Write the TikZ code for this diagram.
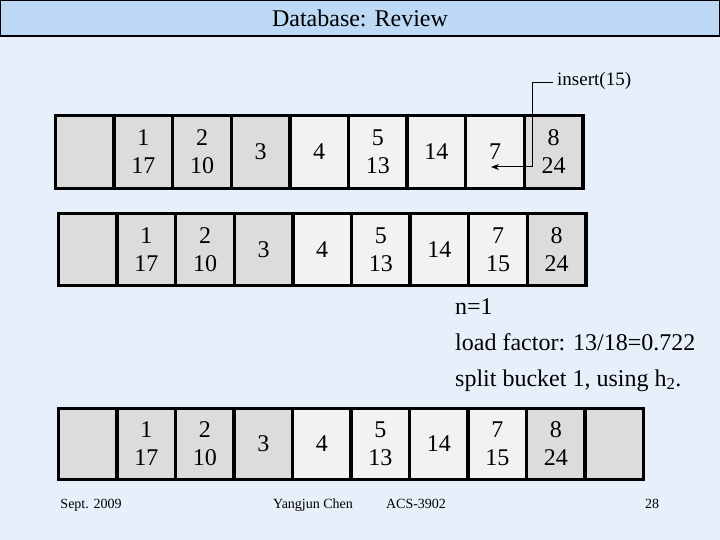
\documentclass[tikz,border=0pt]{standalone}
\usepackage{fontspec}
\setmainfont{Liberation Serif}
\usetikzlibrary{arrows.meta}
\definecolor{bg}{HTML}{E7F0FA}
\definecolor{titlebg}{HTML}{BDD9F5}
\definecolor{darkcell}{HTML}{DCDCDC}
\definecolor{lightcell}{HTML}{F2F2F2}
\tikzset{
  cellbox/.style={draw=black, line width=3.3pt, minimum width=58.6pt, inner sep=0pt, align=center, font=\fontsize{24}{28}\selectfont},
  dk/.style={cellbox, fill=darkcell},
  lt/.style={cellbox, fill=lightcell},
  foot/.style={font=\fontsize{14}{16}\selectfont, inner sep=0pt, anchor=base},
  info/.style={font=\fontsize{24}{28}\selectfont, anchor=base west, inner sep=0pt},
}
\begin{document}
\begin{tikzpicture}[x=1pt,y=-1pt]
\path[use as bounding box, fill=bg] (0,0) rectangle (720,540);
\node[draw=black, line width=1.2pt, fill=titlebg, minimum width=718.8pt, minimum height=35.4pt, inner sep=0pt, font=\fontsize{24}{28}\selectfont] (title) at (360,18.3) {Database: Review};

% Row 1
\foreach \i/\t/\s in {0//dk,1/1\\17/dk,2/2\\10/dk,3/3/dk,4/4/lt,5/5\\13/lt,6/14/lt,7/7/lt,8/8\\24/dk}{
  \node[\s, minimum height=73pt] (a\i) at ({55.5+58.6*(\i+0.5)},152) {\t};
}
% Row 2
\foreach \i/\t/\s in {0//dk,1/1\\17/dk,2/2\\10/dk,3/3/dk,4/4/lt,5/5\\13/lt,6/14/lt,7/7\\15/lt,8/8\\24/dk}{
  \node[\s, minimum height=72pt] (b\i) at ({58.5+58.6*(\i+0.5)},249.5) {\t};
}
% Row 3
\foreach \i/\t/\s in {0//dk,1/1\\17/dk,2/2\\10/dk,3/3/dk,4/4/lt,5/5\\13/lt,6/14/lt,7/7\\15/lt,8/8\\24/dk,9//dk}{
  \node[\s, minimum height=71pt] (c\i) at ({58.5+58.5*(\i+0.5)},444) {\t};
}

% insert arrow
\node[font=\fontsize{19}{22}\selectfont, inner sep=0pt, anchor=west] (ins) at (557,81) {insert(15)};
\coordinate (bend) at (532,83);
\coordinate (tip) at (491,167);
\draw[line width=1pt, -{Stealth[length=8pt,width=6pt]}] (ins.west |- bend) ++(-4,0) -- (bend) |- (tip);

% info text
\node[info] (n1) at (455,314) {n=1};
\node[info] (lf) at (455,350) {load factor: 13/18=0.722};
\node[info] (sp) at (455,386) {split bucket 1, using h\textsubscript{2}.};

% footer
\node[foot] (date) at (91,508) {Sept. 2009};
\node[foot] (auth) at (313,508) {Yangjun Chen};
\node[foot] (course) at (416,508) {ACS-3902};
\node[foot] (page) at (652,508) {28};
\end{tikzpicture}
\end{document}
